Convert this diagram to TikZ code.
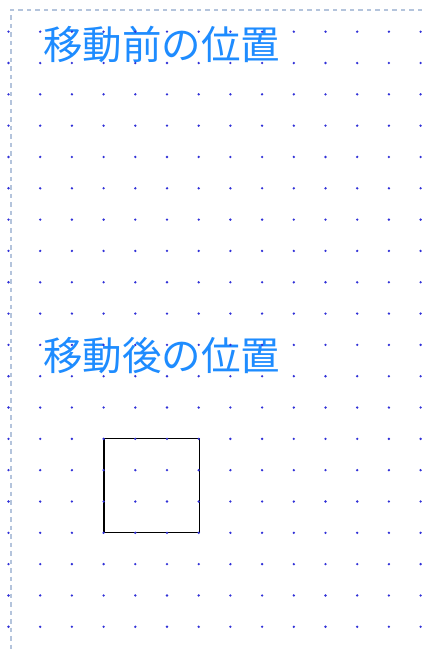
\documentclass[tikz,border=0pt]{standalone}
\usepackage{fontspec}
\newfontfamily\cjk{Noto Sans CJK JP}
\definecolor{titleblue}{HTML}{1E8CFF}
\definecolor{dotblue}{HTML}{3030D8}
\definecolor{frame}{HTML}{B4C4DC}
\tikzset{
  titletext/.style={font=\cjk\fontsize{39.5}{42}\selectfont, text=titleblue, inner sep=0pt},
  griddot/.style={fill=dotblue, draw=none},
  boxshape/.style={draw=black, line width=1.5pt},
  framedash/.style={draw=frame, line width=1.4pt, dash pattern=on 4.5pt off 4pt}
}
\begin{document}
\begin{tikzpicture}[x=1pt,y=-1pt]
\useasboundingbox (0,0) rectangle (422,652);
\fill[white] (0,0) rectangle (422,652);
% dashed frame
\coordinate (ftop) at (11,10);
\coordinate (fright) at (422,10);
\coordinate (fbot) at (11,652);
\draw[framedash] (fright) -- (ftop) -- (fbot);
% titles
\node[titletext] (before) at (161.5,44.5) {移動前の位置};
\node[titletext] (after) at (161.5,356) {移動後の位置};
% square
\draw[boxshape] (104.2,438.6) rectangle (199.3,532.5);
% dot grid
\foreach \i in {0,...,13}{
  \foreach \j in {0,...,19}{
    \fill[griddot] ({8.5+31.7*\i},{31.7+31.32*\j}) circle (1.3);
  }
}
\end{tikzpicture}
\end{document}
